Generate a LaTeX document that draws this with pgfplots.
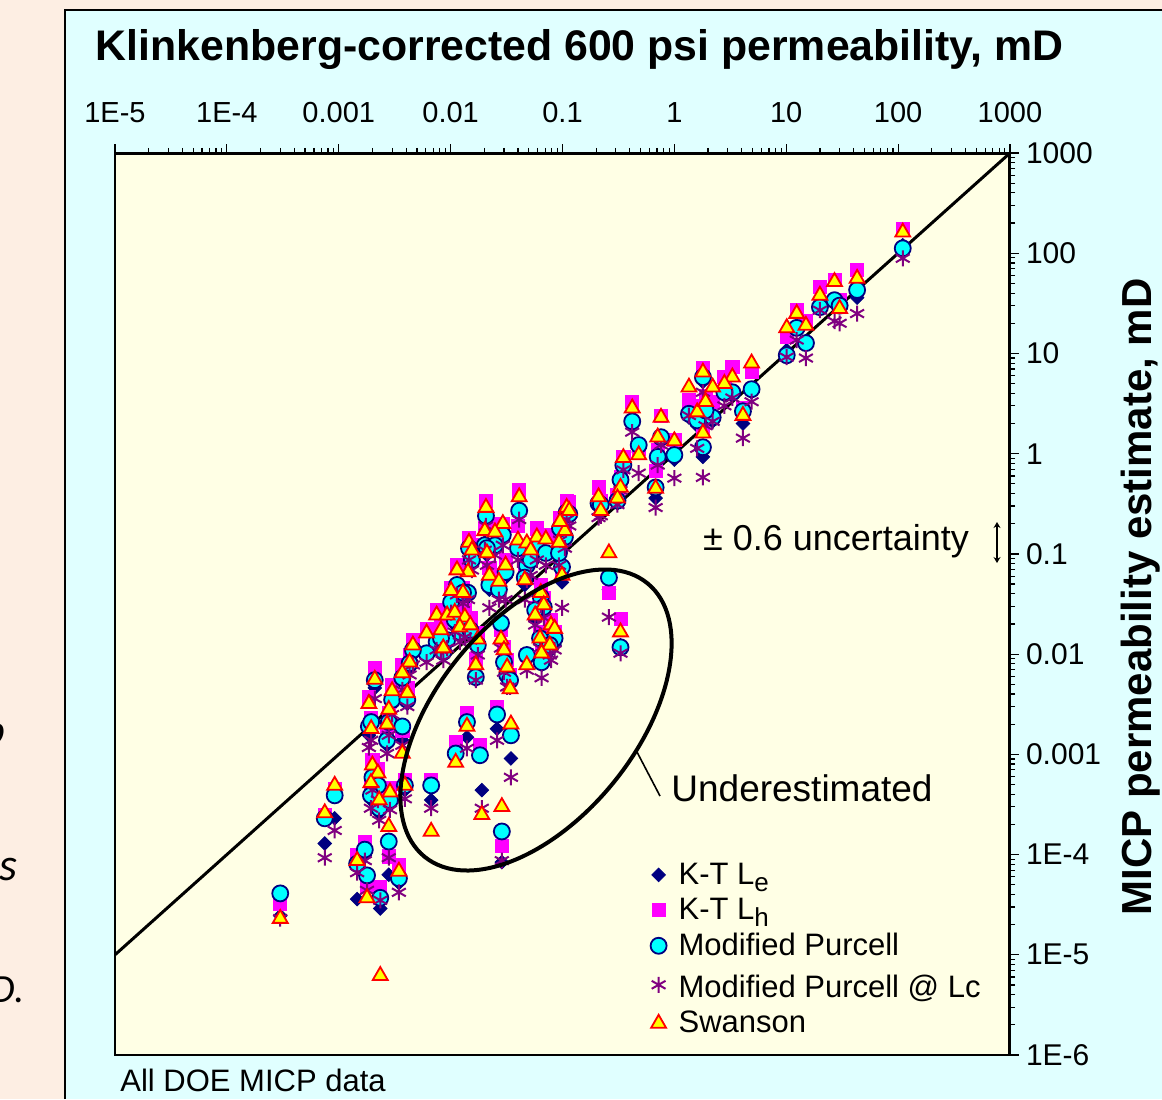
\documentclass[border=0pt]{standalone}
\usepackage{pgfplots}
\pgfplotsset{compat=1.18}
\usepackage{pgfplotstable}
\usepackage{fontspec}
\setmainfont{Liberation Sans}
\newfontfamily\calib{Carlito}
\usetikzlibrary{arrows.meta}

\definecolor{peach}{RGB}{253,238,227}
\definecolor{panel}{RGB}{224,255,255}
\definecolor{plotbg}{RGB}{255,255,229}
\definecolor{navyc}{RGB}{0,0,128}
\definecolor{magc}{RGB}{255,0,255}
\definecolor{cyanc}{RGB}{0,255,255}
\definecolor{purpc}{RGB}{128,0,128}
\definecolor{yelc}{RGB}{255,255,0}
\definecolor{redc}{RGB}{255,0,0}

\newcommand{\bigsub}[1]{\raisebox{-0.25em}{\fontsize{13}{13}\selectfont #1}}

% x = Klinkenberg-corrected permeability; columns = estimates (mD)
\pgfplotstableread{
x        kte       kth       mp        mplc      sw
110      120       173       112       89        162
20       30        46        29        27        38
27       32        54        34        21        52
43       36        68        43        25        56
30       30        34        30        20        28
10.1     10.8      14.6      9.6       9.2       18
12.4     19        27        18        13.6      25
15       12.1      21        12.7      9.0       19
4.9      4.1       6.5       4.4       3.3       8.0
3.3      3.9       7.3       4.1       3.6       5.8
2.8      3.8       5.8       4.1       3.0       5.0
1.8      5.2       7.1       5.8       4.1       6.5
1.35     2.3       3.4       2.5       2.4       4.6
2.2      2.1       3.3       2.3       2.1       4.6
1.6      1.9       3.0       2.15      1.13      2.6
4.1      2.0       2.85      2.65      1.43      2.4
1.8      0.93      1.7       1.16      0.58      1.6
1.9      2.6       3.8       2.7       1.9       3.3
0.42     1.9       3.3       2.1       1.64      2.85
0.76     1.37      2.4       1.46      1.22      2.3
1.0      0.87      1.37      0.97      0.57      1.34
0.48     1.04      1.13      1.22      0.64      0.97
0.71     0.83      1.09      0.93      0.77      1.46
0.35     0.72      0.93      0.77      0.69      0.91
0.33     0.49      0.58      0.55      0.43      0.46
0.31     0.32      0.39      0.34      0.31      0.36
0.68     0.36      0.67      0.46      0.29      0.45
0.21     0.29      0.46      0.32      0.23      0.37
0.22     0.28      0.34      0.31      0.24      0.27
0.109    0.24      0.34      0.26      0.22      0.29
0.115    0.23      0.33      0.25      0.19      0.27
0.105    0.137     0.19      0.147     0.114     0.17
0.26     0.044     0.041     0.058     0.0234    0.102
0.33     0.0123    0.0224    0.0117    0.0102    0.0166
0.099    0.052     0.069     0.074     0.029     0.061
0.041    0.26      0.43      0.27      0.22      0.37
0.0207   0.23      0.34      0.24      0.19      0.29
0.0293   0.137     0.20      0.155     0.122     0.20
0.0202   0.13      0.18      0.122     0.109     0.17
0.0249   0.114     0.20      0.122     0.097     0.165
0.040    0.109     0.19      0.114     0.087     0.137
0.0146   0.104     0.144     0.114     0.087     0.13
0.0155   0.077     0.122     0.087     0.069     0.109
0.0211   0.097     0.122     0.114     0.077     0.102
0.059    0.104     0.18      0.114     0.087     0.147
0.071    0.097     0.155     0.102     0.077     0.14
0.048    0.069     0.091     0.077     0.055     0.128
0.052    0.083     0.122     0.087     0.061     0.109
0.095    0.165     0.23      0.18      0.137     0.21
0.093    0.097     0.155     0.102     0.077     0.13
0.0143   0.037     0.069     0.041     0.035     0.066
0.0114   0.044     0.077     0.049     0.039     0.069
0.0222   0.044     0.072     0.049     0.029     0.061
0.031    0.058     0.087     0.066     0.035     0.077
0.0101   0.030     0.046     0.033     0.026     0.043
0.0129   0.037     0.046     0.041     0.032     0.041
0.027    0.041     0.061     0.044     0.035     0.053
0.046    0.049     0.069     0.058     0.035     0.055
0.064    0.035     0.049     0.037     0.031     0.041
0.068    0.026     0.036     0.0295    0.023     0.031
0.057    0.0219    0.029     0.0275    0.0195    0.0245
0.079    0.011     0.0219    0.0123    0.0087    0.0195
0.085    0.0123    0.0166    0.0144    0.011     0.018
0.0075   0.0123    0.0275    0.0132    0.011     0.0245
0.0093   0.0132    0.026     0.0138    0.0115    0.0245
0.0109   0.0195    0.031     0.0219    0.0166    0.026
0.0134   0.0174    0.0275    0.0195    0.0148    0.0234
0.0121   0.0151    0.021     0.0166    0.0132    0.0186
0.0150   0.0162    0.023     0.0174    0.0138    0.0195
0.0082   0.0132    0.0186    0.0144    0.011     0.0174
0.0061   0.0093    0.018     0.0102    0.0083    0.0162
0.0046   0.0098    0.0138    0.011     0.0078    0.0123
0.0086   0.0098    0.0132    0.0105    0.0087    0.0115
0.0175   0.0115    0.0162    0.0123    0.0098    0.0141
0.0282   0.018     0.0174    0.0204    0.0115    0.0141
0.0300   0.0078    0.0117    0.0083    0.0066    0.011
0.063    0.0132    0.0166    0.0144    0.0115    0.0144
0.077    0.0115    0.0138    0.0123    0.0098    0.0123
0.065    0.0078    0.0115    0.0083    0.0058    0.0102
0.048    0.0087    0.0098    0.0098    0.0069    0.0078
0.032    0.0058    0.0087    0.0062    0.0047    0.0074
0.0168   0.0055    0.0089    0.0059    0.0055    0.0078
0.034    0.0049    0.0062    0.0055    0.0047    0.0045
0.0043   0.0072    0.0098    0.0081    0.0062    0.0083
0.0037   0.0052    0.0078    0.0058    0.0044    0.0065
0.0021   0.0046    0.0072    0.0055    0.0036    0.0056
0.0030   0.0031    0.0049    0.0035    0.0025    0.0043
0.0041   0.0032    0.0046    0.0035    0.0030    0.0041
0.00186  0.00155   0.0037    0.0019    0.00117   0.0032
0.00195  0.0017    0.0023    0.0021    0.00138   0.0018
0.0028   0.0018    0.0026    0.0021    0.00155   0.0028
0.0027   0.00123   0.00155   0.00138   0.00102   0.0020
0.0037   0.00138   0.0017    0.0019    0.00123   0.00102
0.0020   0.00055   0.00087   0.00059   0.00044   0.00078
0.00224  0.00044   0.00072   0.00049   0.00035   0.00065
0.00194  0.00035   0.00047   0.00039   0.00029   0.00052
0.0023   0.00026   0.00039   0.00029   0.00022   0.00035
0.00287  0.00031   0.00046   0.00035   0.00028   0.00042
0.0039   0.00044   0.00055   0.00049   0.00036   0.00049
0.00092  0.00023   0.00045   0.00039   0.000174  0.00049
0.00075  0.000129  0.00025   0.00023   0.000093  0.00026
0.00030  0.0000245 0.000032  0.000041  0.000023  0.000023
0.00171  0.000098  0.000132  0.000112  0.000087  nan
0.00146  0.000036  0.000098  0.000081  0.000066  0.000087
0.00179  0.000055  0.000049  0.000062  0.000044  0.000037
0.00235  0.000029  0.000047  0.000037  0.000035  0.0000062
0.0028   0.000063  0.000096  0.000135  0.000093  0.00019
0.00345  0.000052  0.000078  0.000058  0.000042  0.000068
0.0140   0.00148   0.0026    0.0021    0.00115   0.0019
0.0111   nan       0.00132   0.00102   nan       0.00083
0.0183   nan       0.00123   0.00098   nan       nan
0.026    0.0018    0.0030    0.0025    0.00138   nan
0.0346   0.00091   nan       0.00155   0.00059   0.0020
0.0067   0.00035   0.00055   0.00049   0.00029   0.00017
0.019    0.00044   nan       nan       0.00029   0.00025
0.0287   0.000084  0.000123  0.00017   0.000087  0.00030
}\datatable

\begin{document}
\begin{tikzpicture}
\useasboundingbox (0,0) rectangle (581pt,-549.5pt);
\fill[peach] (0,0) rectangle (581pt,-549.5pt);
\fill[panel] (32.5pt,-5pt) rectangle (581pt,-549.5pt);
\draw[line width=1pt] (32.5pt,-549.5pt) -- (32.5pt,-5pt) -- (581pt,-5pt);

% cut-off slide text on the left
\node[overlay, anchor=base east, inner sep=0pt, font=\calib\itshape\fontsize{21}{24}\selectfont] at (2.5pt,-372pt) {p};
\node[overlay, anchor=base east, inner sep=0pt, font=\calib\itshape\fontsize{23}{26}\selectfont] at (9pt,-440pt) {s};
\node[overlay, anchor=base east, inner sep=0pt, font=\calib\itshape\fontsize{20}{24}\selectfont] at (12.5pt,-501pt) {D.};

\begin{axis}[
  at={(57.5pt,-527.5pt)}, anchor=south west,
  width=447.5pt, height=451pt, scale only axis,
  xmode=log, ymode=log,
  xmin=1e-5, xmax=1000, ymin=1e-6, ymax=1000,
  axis background/.style={fill=plotbg},
  axis line style={line width=0.7pt},
  xtick pos=right, ytick pos=right,
  xticklabel pos=right, yticklabel pos=right,
  tick align=outside,
  major tick length=4.5pt, minor tick length=2.6pt,
  every tick/.style={black, line width=0.6pt},
  xtick={1e-5,1e-4,1e-3,1e-2,1e-1,1,10,100,1000},
  xticklabels={1E-5,1E-4,0.001,0.01,0.1,1,10,100,1000},
  ytick={1e-6,1e-5,1e-4,1e-3,1e-2,1e-1,1,10,100,1000},
  yticklabels={1E-6,1E-5,1E-4,0.001,0.01,0.1,1,10,100,1000},
  minor xtick={2e-5,3e-5,4e-5,5e-5,6e-5,7e-5,8e-5,9e-5,
    2e-4,3e-4,4e-4,5e-4,6e-4,7e-4,8e-4,9e-4,
    2e-3,3e-3,4e-3,5e-3,6e-3,7e-3,8e-3,9e-3,
    2e-2,3e-2,4e-2,5e-2,6e-2,7e-2,8e-2,9e-2,
    0.2,0.3,0.4,0.5,0.6,0.7,0.8,0.9,
    2,3,4,5,6,7,8,9,20,30,40,50,60,70,80,90,
    200,300,400,500,600,700,800,900},
  minor ytick={2e-6,3e-6,4e-6,5e-6,6e-6,7e-6,8e-6,9e-6,
    2e-5,3e-5,4e-5,5e-5,6e-5,7e-5,8e-5,9e-5,
    2e-4,3e-4,4e-4,5e-4,6e-4,7e-4,8e-4,9e-4,
    2e-3,3e-3,4e-3,5e-3,6e-3,7e-3,8e-3,9e-3,
    2e-2,3e-2,4e-2,5e-2,6e-2,7e-2,8e-2,9e-2,
    0.2,0.3,0.4,0.5,0.6,0.7,0.8,0.9,
    2,3,4,5,6,7,8,9,20,30,40,50,60,70,80,90,
    200,300,400,500,600,700,800,900},
  xticklabel style={font=\fontsize{14.5}{17}\selectfont, yshift=7pt},
  yticklabel style={font=\fontsize{15}{17}\selectfont},
  unbounded coords=discard,
  legend style={draw=none, fill=none, at={(0.598,0.218)}, anchor=north west,
    font=\fontsize{15.5}{18}\selectfont, row sep=1.4pt, inner sep=0pt,
    /tikz/every odd column/.append style={column sep=4pt}},
  legend cell align=left,
]
\addplot[only marks, mark=square*, mark size=2.4pt, color=navyc, fill=navyc, mark options={rotate=45}]
  table[x=x, y=kte]{\datatable};
\addlegendentry{K-T L\bigsub{e}}
\addplot[only marks, mark=square*, mark size=3.3pt, color=magc, fill=magc]
  table[x=x, y=kth]{\datatable};
\addlegendentry{K-T L\bigsub{h}}
\addplot[only marks, mark=*, mark size=4pt, draw=navyc, fill=cyanc, mark options={line width=0.9pt}]
  table[x=x, y=mp]{\datatable};
\addlegendentry{Modified Purcell}
\addplot[only marks, mark=asterisk, mark size=4pt, color=purpc, mark options={line width=1pt}]
  table[x=x, y=mplc]{\datatable};
\addlegendentry{\rule{0pt}{14pt}Modified Purcell @ Lc}
\addplot[only marks, mark=triangle*, mark size=4.3pt, draw=redc, fill=yelc, mark options={line width=0.9pt}]
  table[x=x, y=sw]{\datatable};
\addlegendentry{Swanson}
\addplot[black, line width=1.5pt, forget plot] coordinates {(1e-5,1e-5) (1000,1000)};
\draw[line width=1.5pt] (rel axis cs:0,1) -- (rel axis cs:1,1);
\draw[line width=2pt] (rel axis cs:1,1) -- (rel axis cs:1,0);
\end{axis}

% annotations
\draw[line width=2pt, rotate around={50.8:(268pt,-360pt)}] (268pt,-360pt) ellipse [x radius=88.2pt, y radius=49.8pt];
\draw[line width=0.8pt] (318.5pt,-376pt) -- (330pt,-398pt);
\node[font=\fontsize{18.5}{22}\selectfont] at (401pt,-394pt) {Underestimated};
\node[font=\fontsize{18}{22}\selectfont] at (418pt,-270.5pt) {± 0.6 uncertainty};
\draw[{Stealth[length=3pt,width=3.5pt]}-{Stealth[length=3pt,width=3.5pt]}, line width=0.8pt] (498.5pt,-261pt) -- (498.5pt,-281.5pt);

\node[font=\bfseries\fontsize{21.4}{25}\selectfont] at (289.75pt,-25pt) {Klinkenberg-corrected 600 psi permeability, mD};
\node[font=\bfseries\fontsize{21}{25}\selectfont, rotate=90, anchor=base, inner sep=0pt] at (575.5pt,-298.5pt) {MICP permeability estimate, mD};
\node[font=\fontsize{15.5}{18}\selectfont, anchor=west, inner sep=0pt] at (60pt,-540pt) {All DOE MICP data};
\end{tikzpicture}
\end{document}
